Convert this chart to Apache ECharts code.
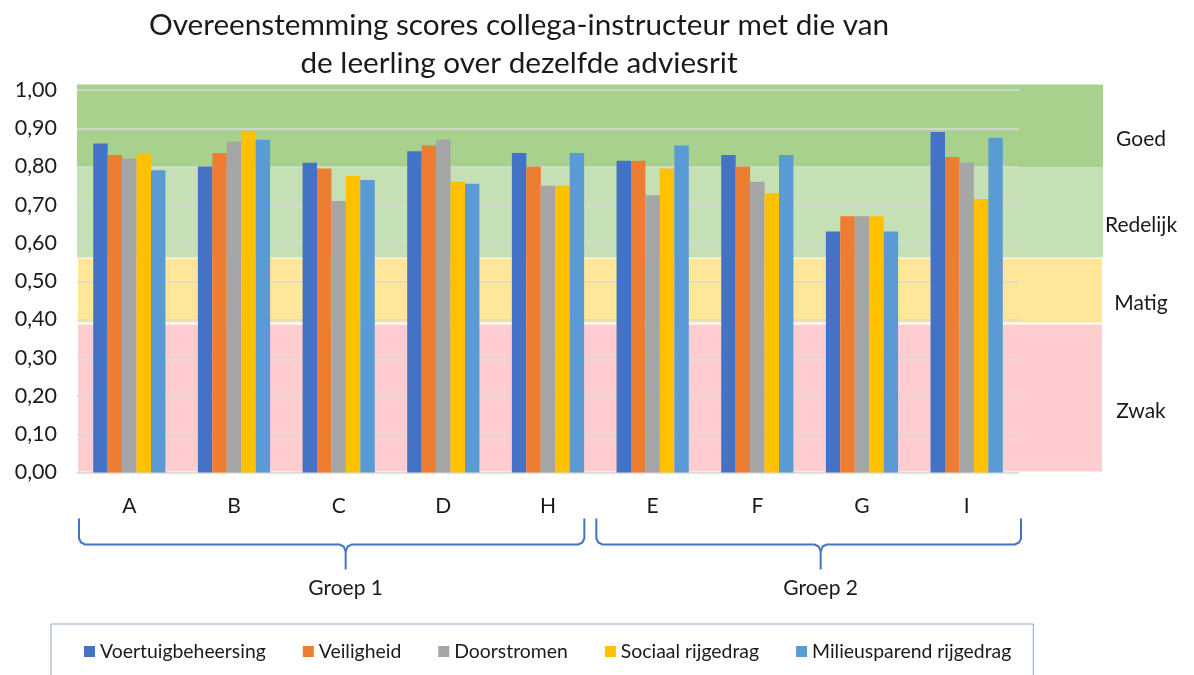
<!DOCTYPE html>
<html>
<head>
<meta charset="utf-8">
<script src="https://cdn.jsdelivr.net/npm/echarts@6/dist/echarts.min.js"></script>
<style>
  html, body { margin: 0; padding: 0; background: #fff; }
  #main { width: 1194px; height: 675px; }
</style>
</head>
<body>
<div id="main"></div>
<script>
var categories = ['A', 'B', 'C', 'D', 'H', 'E', 'F', 'G', 'I'];
var seriesNames = ['Voertuigbeheersing', 'Veiligheid', 'Doorstromen', 'Sociaal rijgedrag', 'Milieusparend rijgedrag'];
var seriesColors = ['#4472C4', '#ED7D31', '#A5A5A5', '#FFC000', '#5B9BD5'];

var voertuigbeheersing = [0.86, 0.80, 0.81, 0.84, 0.835, 0.815, 0.83, 0.63, 0.89];
var veiligheid = [0.83, 0.835, 0.795, 0.855, 0.80, 0.815, 0.80, 0.67, 0.825];
var doorstromen = [0.82, 0.865, 0.71, 0.87, 0.75, 0.725, 0.76, 0.67, 0.81];
var sociaalRijgedrag = [0.835, 0.89, 0.775, 0.76, 0.75, 0.795, 0.73, 0.67, 0.715];
var milieusparend = [0.79, 0.87, 0.765, 0.755, 0.835, 0.855, 0.83, 0.63, 0.875];

// score bands (upper limits) behind the bars
var bandNames = ['Zwak', 'Matig', 'Redelijk', 'Goed'];
var bandTops = [0.39, 0.563, 0.80, 1.016];
var bandColors = ['#FFCDCF', '#FFE699', '#C5E0B4', '#A9D18E'];

var groups = [
  { name: 'Groep 1', from: 'A', to: 'H' },
  { name: 'Groep 2', from: 'E', to: 'I' }
];

var font = 'Lato';
var values = [voertuigbeheersing, veiligheid, doorstromen, sociaalRijgedrag, milieusparend];

var myChart = echarts.init(document.getElementById('main'));

var series = [];
bandNames.forEach(function (name, i) {
  var h = bandTops[i] - (i ? bandTops[i - 1] : 0);
  series.push({
    name: name,
    type: 'bar',
    xAxisIndex: 1,
    yAxisIndex: 1,
    stack: 'band',
    barWidth: '100%',
    silent: true,
    z: 1,
    itemStyle: { color: bandColors[i], borderColor: i < 2 ? '#fff' : bandColors[i], borderWidth: i < 2 ? 1 : 0 },
    label: {
      show: true,
      position: 'right',
      distance: 0,
      align: 'center',
      offset: [38, 13],
      formatter: name,
      fontFamily: font,
      fontSize: 21,
      color: '#1a1a1a'
    },
    data: [h]
  });
});

seriesNames.forEach(function (name, i) {
  series.push({
    name: name,
    type: 'bar',
    xAxisIndex: 0,
    yAxisIndex: 0,
    z: 3,
    barGap: '0%',
    barCategoryGap: '31%',
    itemStyle: { color: seriesColors[i] },
    data: values[i]
  });
});

myChart.setOption({
  backgroundColor: '#fff',
  animation: false,
  title: {
    text: 'Overeenstemming scores collega-instructeur met die van\nde leerling over dezelfde adviesrit',
    left: 514,
    top: 1,
    textAlign: 'center',
    textStyle: { fontFamily: font, fontSize: 29.7, fontWeight: 'normal', color: '#1a1a1a', lineHeight: 38 }
  },
  legend: {
    data: seriesNames,
    left: 51,
    top: 624,
    padding: [18, 22, 40, 33],
    borderColor: '#8FA3C6',
    borderWidth: 1,
    itemWidth: 11,
    itemHeight: 11,
    itemGap: 37,
    icon: 'rect',
    textStyle: { fontFamily: font, fontSize: 19.4, color: '#1a1a1a' }
  },
  grid: [
    { left: 77, right: 175, top: 90, bottom: 202.5 },
    { left: 77, right: 91, top: 84.5, bottom: 202.5 }
  ],
  xAxis: [
    {
      type: 'category',
      gridIndex: 0,
      data: categories,
      axisLine: { lineStyle: { color: '#D9D9D9' } },
      axisTick: { show: false },
      axisLabel: { margin: 23, fontFamily: font, fontSize: 21, color: '#1a1a1a' }
    },
    { type: 'category', gridIndex: 1, data: [''], show: false }
  ],
  yAxis: [
    {
      type: 'value',
      gridIndex: 0,
      min: 0,
      max: 1,
      interval: 0.1,
      z: 2,
      axisLine: { show: false },
      axisTick: { show: false },
      splitLine: { lineStyle: { color: '#D9D9D9', width: 1.5 } },
      axisLabel: {
        margin: 20,
        fontFamily: font,
        fontSize: 21.5,
        color: '#1a1a1a',
        formatter: function (v) { return v.toFixed(2).replace('.', ','); }
      }
    },
    { type: 'value', gridIndex: 1, min: 0, max: bandTops[bandTops.length - 1], show: false }
  ],
  series: series
});

// group braces below the category labels
var p0 = myChart.convertToPixel({ xAxisIndex: 0 }, categories[0]);
var p1 = myChart.convertToPixel({ xAxisIndex: 0 }, categories[1]);
var bw = p1 - p0;
var yBase = myChart.convertToPixel({ yAxisIndex: 0 }, 0);
var graphics = [];
groups.forEach(function (g, gi) {
  var l = myChart.convertToPixel({ xAxisIndex: 0 }, g.from) - bw / 2 + (gi ? -4 : 2);
  var r = myChart.convertToPixel({ xAxisIndex: 0 }, g.to) + bw / 2 - (gi ? -2 : 16);
  var t = (l + r) / 2 + (gi ? 12 : 14);
  var y0 = yBase + 46, y1 = yBase + 72, y2 = yBase + 97;
  var st = { stroke: '#4472C4', lineWidth: 2, fill: null };
  graphics.push({
    type: 'polyline',
    shape: { points: [[l, y0], [l, y1 - 6], [l + 2, y1 - 2], [l + 6, y1], [t - 6, y1], [t - 2, y1 + 2], [t, y1 + 7], [t, y2]] },
    style: st
  });
  graphics.push({
    type: 'polyline',
    shape: { points: [[r, y0], [r, y1 - 6], [r - 2, y1 - 2], [r - 6, y1], [t + 6, y1], [t + 2, y1 + 2], [t, y1 + 7]] },
    style: st
  });
  graphics.push({
    type: 'text',
    x: t,
    y: yBase + 116,
    style: { text: g.name, fontFamily: font, fontSize: 21, fill: '#1a1a1a', textAlign: 'center', textVerticalAlign: 'middle' }
  });
});
myChart.setOption({ graphic: graphics });
</script>
</body>
</html>
